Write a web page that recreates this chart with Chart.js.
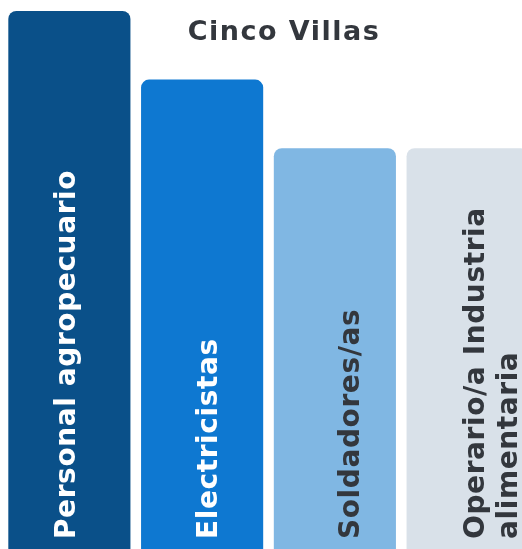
<!DOCTYPE html>
<html>
<head>
<meta charset="utf-8">
<script src="https://cdn.jsdelivr.net/npm/chart.js@4"></script>
<style>
    html, body { margin: 0; padding: 0; background: #ffffff; overflow: hidden; }
    #wrap { position: relative; width: 534px; height: 549px; }
    #titolo {
        position: absolute; left: 144px; width: 280px; top: 16px;
        text-align: center; font-family: "DejaVu Sans", sans-serif; font-weight: 700;
        font-size: 27px; line-height: 30px; color: #33373d; letter-spacing: 1.5px;
    }
</style>
</head>
<body>
<div id="wrap">
    <canvas id="barChart"></canvas>
    <div id="titolo">Cinco Villas</div>
</div>
<script>
// Dati
const categorie = [['Personal agropecuario'], ['Electricistas'], ['Soldadores/as'], ['Operario/a Industria', 'alimentaria']];
const valori = [98, 85.5, 73, 73];
const colori = ['#0a5089', '#0e78d1', '#80b7e3', '#d9e1e9'];
const coloriTesto = ['#ffffff', '#ffffff', '#33373d', '#33373d'];

// Etichette ruotate dentro le barre
const etichettePlugin = {
    id: 'etichette',
    afterDatasetsDraw(chart) {
        const ctx = chart.ctx;
        const fs = 28;
        const lh = 33;
        chart.getDatasetMeta(0).data.forEach((bar, i) => {
            const righe = categorie[i];
            const centro = bar.x + (i - 0.5) * 9;
            ctx.save();
            ctx.translate(centro, chart.chartArea.bottom - 10);
            ctx.rotate(-Math.PI / 2);
            ctx.font = '700 ' + fs + 'px "DejaVu Sans", sans-serif';
            ctx.letterSpacing = '0.6px';
            ctx.fillStyle = coloriTesto[i];
            ctx.textAlign = 'left';
            ctx.textBaseline = 'alphabetic';
            righe.forEach((riga, k) => {
                ctx.fillText(riga, 0, 0.37 * fs + (k - (righe.length - 1) / 2) * lh);
            });
            ctx.restore();
        });
    }
};

const ctx = document.getElementById('barChart').getContext('2d');
const barChart = new Chart(ctx, {
    type: 'bar',
    data: {
        labels: categorie.map(c => c.join(' ')),
        datasets: [{
            data: valori,
            backgroundColor: colori,
            borderWidth: 0,
            borderRadius: { topLeft: 8, topRight: 8 },
            borderSkipped: 'bottom',
            categoryPercentage: 1,
            barPercentage: 0.92
        }]
    },
    options: {
        responsive: true,
        maintainAspectRatio: false,
        animation: false,
        layout: { padding: { left: 3, right: 0, top: 0, bottom: 0 } },
        scales: {
            x: { display: false },
            y: { display: false, min: 0, max: 100 }
        },
        plugins: {
            legend: { display: false },
            tooltip: { enabled: false }
        }
    },
    plugins: [etichettePlugin]
});
</script>
</body>
</html>
